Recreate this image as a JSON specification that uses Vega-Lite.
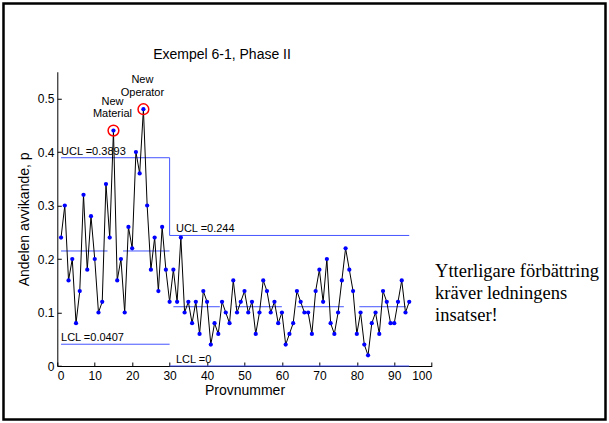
{
  "$schema": "https://vega.github.io/schema/vega-lite/v6.json",
  "width": 374.4,
  "height": 294.25,
  "autosize": {"type": "none"},
  "padding": {"left": 57.3, "top": 71.75, "right": 177.3, "bottom": 57},
  "background": "white",
  "config": {
    "view": {"stroke": null},
    "font": "Liberation Sans",
    "axis": {
      "grid": false,
      "domainColor": "black",
      "domainWidth": 1,
      "tickColor": "black",
      "tickWidth": 1,
      "tickSize": -4,
      "labelColor": "black",
      "labelFont": "Liberation Sans",
      "labelFontSize": 12,
      "labelOverlap": false,
      "titleColor": "black",
      "titleFont": "Liberation Sans",
      "titleFontSize": 14,
      "titleFontWeight": "normal",
      "zindex": 1
    }
  },
  "datasets": {
    "obs": [
      {"sample": 1, "p": 0.24}, {"sample": 2, "p": 0.30}, {"sample": 3, "p": 0.16}, {"sample": 4, "p": 0.20},
      {"sample": 5, "p": 0.08}, {"sample": 6, "p": 0.14}, {"sample": 7, "p": 0.32}, {"sample": 8, "p": 0.18},
      {"sample": 9, "p": 0.28}, {"sample": 10, "p": 0.20}, {"sample": 11, "p": 0.10}, {"sample": 12, "p": 0.12},
      {"sample": 13, "p": 0.34}, {"sample": 14, "p": 0.24}, {"sample": 15, "p": 0.44}, {"sample": 16, "p": 0.16},
      {"sample": 17, "p": 0.20}, {"sample": 18, "p": 0.10}, {"sample": 19, "p": 0.26}, {"sample": 20, "p": 0.22},
      {"sample": 21, "p": 0.40}, {"sample": 22, "p": 0.36}, {"sample": 23, "p": 0.48}, {"sample": 24, "p": 0.30},
      {"sample": 25, "p": 0.18}, {"sample": 26, "p": 0.24}, {"sample": 27, "p": 0.14}, {"sample": 28, "p": 0.26},
      {"sample": 29, "p": 0.18}, {"sample": 30, "p": 0.12}, {"sample": 31, "p": 0.18}, {"sample": 32, "p": 0.12},
      {"sample": 33, "p": 0.24}, {"sample": 34, "p": 0.10}, {"sample": 35, "p": 0.12}, {"sample": 36, "p": 0.08},
      {"sample": 37, "p": 0.12}, {"sample": 38, "p": 0.06}, {"sample": 39, "p": 0.14}, {"sample": 40, "p": 0.12},
      {"sample": 41, "p": 0.04}, {"sample": 42, "p": 0.08}, {"sample": 43, "p": 0.06}, {"sample": 44, "p": 0.12},
      {"sample": 45, "p": 0.10}, {"sample": 46, "p": 0.08}, {"sample": 47, "p": 0.16}, {"sample": 48, "p": 0.10},
      {"sample": 49, "p": 0.12}, {"sample": 50, "p": 0.14}, {"sample": 51, "p": 0.10}, {"sample": 52, "p": 0.12},
      {"sample": 53, "p": 0.06}, {"sample": 54, "p": 0.10}, {"sample": 55, "p": 0.16}, {"sample": 56, "p": 0.14},
      {"sample": 57, "p": 0.10}, {"sample": 58, "p": 0.12}, {"sample": 59, "p": 0.08}, {"sample": 60, "p": 0.10},
      {"sample": 61, "p": 0.04}, {"sample": 62, "p": 0.06}, {"sample": 63, "p": 0.08}, {"sample": 64, "p": 0.14},
      {"sample": 65, "p": 0.12}, {"sample": 66, "p": 0.10}, {"sample": 67, "p": 0.10}, {"sample": 68, "p": 0.06},
      {"sample": 69, "p": 0.14}, {"sample": 70, "p": 0.18}, {"sample": 71, "p": 0.12}, {"sample": 72, "p": 0.20},
      {"sample": 73, "p": 0.08}, {"sample": 74, "p": 0.06}, {"sample": 75, "p": 0.10}, {"sample": 76, "p": 0.16},
      {"sample": 77, "p": 0.22}, {"sample": 78, "p": 0.18}, {"sample": 79, "p": 0.14}, {"sample": 80, "p": 0.06},
      {"sample": 81, "p": 0.10}, {"sample": 82, "p": 0.04}, {"sample": 83, "p": 0.02}, {"sample": 84, "p": 0.08},
      {"sample": 85, "p": 0.10}, {"sample": 86, "p": 0.06}, {"sample": 87, "p": 0.14}, {"sample": 88, "p": 0.12},
      {"sample": 89, "p": 0.08}, {"sample": 90, "p": 0.08}, {"sample": 91, "p": 0.12}, {"sample": 92, "p": 0.16},
      {"sample": 93, "p": 0.10}, {"sample": 94, "p": 0.12}
    ],
    "limits": [
      {"line": "UCL", "sample": 1, "p": 0.3893},
      {"line": "UCL", "sample": 30, "p": 0.3893},
      {"line": "UCL", "sample": 30, "p": 0.244},
      {"line": "UCL", "sample": 94, "p": 0.244},
      {"line": "LCL1", "sample": 1, "p": 0.0407},
      {"line": "LCL1", "sample": 30, "p": 0.0407},
      {"line": "LCL2", "sample": 30, "p": 0},
      {"line": "LCL2", "sample": 94, "p": 0}
    ],
    "center": [
      {"phase": "I", "sample": 1, "p": 0.215},
      {"phase": "I", "sample": 30, "p": 0.215},
      {"phase": "II", "sample": 31, "p": 0.1108},
      {"phase": "II", "sample": 94, "p": 0.1108}
    ],
    "limitLabels": [
      {"label": "UCL =0.3893", "sample": 1, "p": 0.3893},
      {"label": "LCL =0.0407", "sample": 1, "p": 0.0407},
      {"label": "UCL =0.244", "sample": 31.7, "p": 0.244},
      {"label": "LCL =0", "sample": 31.7, "p": 0}
    ],
    "notes": [
      {"note": ["New", "Material"], "sample": 15, "p": 0.44},
      {"note": ["New", "Operator"], "sample": 23, "p": 0.48}
    ],
    "caption": [
      {"title": "Exempel 6-1, Phase II", "remark": ["Ytterligare förbättring", "kräver ledningens", "insatser!"]}
    ]
  },
  "layer": [
    {
      "data": {"name": "caption"},
      "mark": {"type": "rect", "fill": null, "stroke": "black", "strokeWidth": 2.5},
      "encoding": {
        "x": {"datum": -14.37, "type": "quantitative", "scale": {"domain": [0, 100], "nice": false, "zero": false}},
        "x2": {"datum": 146.42},
        "y": {"datum": 0.6776, "type": "quantitative", "scale": {"domain": [0, 0.55], "nice": false, "zero": false}},
        "y2": {"datum": -0.1}
      }
    },
    {
      "data": {"name": "limits"},
      "mark": {"type": "line", "color": "#4455ff", "strokeWidth": 1},
      "encoding": {
        "x": {"field": "sample", "type": "quantitative", "scale": {"domain": [0, 100], "nice": false, "zero": false}},
        "y": {"field": "p", "type": "quantitative", "scale": {"domain": [0, 0.55], "nice": false, "zero": false}},
        "detail": {"field": "line"},
        "order": {"value": null}
      }
    },
    {
      "data": {"name": "center"},
      "mark": {"type": "line", "color": "#4455ff", "strokeWidth": 1, "strokeDash": [46.5, 15.5]},
      "encoding": {
        "x": {"field": "sample", "type": "quantitative", "scale": {"domain": [0, 100], "nice": false, "zero": false}},
        "y": {"field": "p", "type": "quantitative", "scale": {"domain": [0, 0.55], "nice": false, "zero": false}},
        "detail": {"field": "phase"}
      }
    },
    {
      "data": {"name": "obs"},
      "mark": {"type": "line", "color": "black", "strokeWidth": 1},
      "encoding": {
        "x": {
          "field": "sample", "type": "quantitative",
          "scale": {"domain": [0, 100], "nice": false, "zero": false},
          "axis": {"values": [0, 10, 20, 30, 40, 50, 60, 70, 80, 90, 100], "tickCount": 11, "labelOverlap": false, "title": "Provnummer", "labelPadding": 8, "titlePadding": 2}
        },
        "y": {
          "field": "p", "type": "quantitative",
          "scale": {"domain": [0, 0.55], "nice": false, "zero": false},
          "axis": {"values": [0, 0.1, 0.2, 0.3, 0.4, 0.5], "format": ".1~f", "title": "Andelen avvikande, p", "labelPadding": 7.3, "titlePadding": 5.5}
        }
      }
    },
    {
      "data": {"name": "obs"},
      "mark": {"type": "point", "shape": "circle", "filled": true, "color": "#0000ff", "size": 18, "opacity": 1},
      "encoding": {
        "x": {"field": "sample", "type": "quantitative", "scale": {"domain": [0, 100], "nice": false, "zero": false}},
        "y": {"field": "p", "type": "quantitative", "scale": {"domain": [0, 0.55], "nice": false, "zero": false}}
      }
    },
    {
      "data": {"name": "notes"},
      "mark": {"type": "point", "shape": "circle", "filled": false, "stroke": "#ff0000", "strokeWidth": 1.5, "size": 115, "opacity": 1},
      "encoding": {
        "x": {"field": "sample", "type": "quantitative", "scale": {"domain": [0, 100], "nice": false, "zero": false}},
        "y": {"field": "p", "type": "quantitative", "scale": {"domain": [0, 0.55], "nice": false, "zero": false}}
      }
    },
    {
      "data": {"name": "notes"},
      "mark": {"type": "text", "align": "center", "baseline": "alphabetic", "fontSize": 11, "lineHeight": 12.5, "dx": -1, "dy": -26, "color": "black", "font": "Liberation Sans"},
      "encoding": {
        "x": {"field": "sample", "type": "quantitative", "scale": {"domain": [0, 100], "nice": false, "zero": false}},
        "y": {"field": "p", "type": "quantitative", "scale": {"domain": [0, 0.55], "nice": false, "zero": false}},
        "text": {"field": "note"}
      }
    },
    {
      "data": {"name": "limitLabels"},
      "mark": {"type": "text", "align": "left", "baseline": "alphabetic", "fontSize": 11, "dy": -3, "color": "black", "font": "Liberation Sans"},
      "encoding": {
        "x": {"field": "sample", "type": "quantitative", "scale": {"domain": [0, 100], "nice": false, "zero": false}},
        "y": {"field": "p", "type": "quantitative", "scale": {"domain": [0, 0.55], "nice": false, "zero": false}},
        "text": {"field": "label"}
      }
    },
    {
      "data": {"name": "caption"},
      "mark": {"type": "text", "align": "center", "baseline": "alphabetic", "fontSize": 14, "color": "black", "font": "Liberation Sans"},
      "encoding": {
        "x": {"datum": 44.0, "type": "quantitative", "scale": {"domain": [0, 100], "nice": false, "zero": false}},
        "y": {"datum": 0.5738, "type": "quantitative", "scale": {"domain": [0, 0.55], "nice": false, "zero": false}},
        "text": {"field": "title"}
      }
    },
    {
      "data": {"name": "caption"},
      "mark": {"type": "text", "align": "left", "baseline": "alphabetic", "fontSize": 18.5, "lineHeight": 22, "color": "black", "font": "Liberation Serif"},
      "encoding": {
        "x": {"datum": 100.9, "type": "quantitative", "scale": {"domain": [0, 100], "nice": false, "zero": false}},
        "y": {"datum": 0.1669, "type": "quantitative", "scale": {"domain": [0, 0.55], "nice": false, "zero": false}},
        "text": {"field": "remark"}
      }
    }
  ]
}
